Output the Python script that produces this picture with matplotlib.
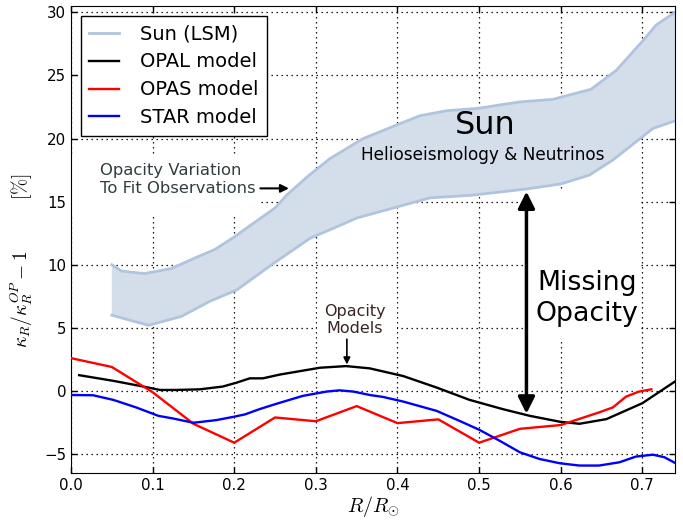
import matplotlib
matplotlib.use("Agg")
import matplotlib.pyplot as plt
from matplotlib.patches import Rectangle
import numpy as np

plt.rcParams['mathtext.fontset'] = 'cm'
plt.rcParams['font.family'] = ['DejaVu Sans']
plt.rcParams['lines.scale_dashes'] = False

# Sun band (LSM)
sun_up_x = [0.05, 0.062, 0.09, 0.123, 0.154, 0.176, 0.2, 0.215, 0.25, 0.264, 0.29, 0.317, 0.358,
            0.427, 0.46, 0.5, 0.529, 0.55, 0.59, 0.637, 0.668, 0.70, 0.717, 0.74]
sun_up_y = [10.0, 9.5, 9.3, 9.7, 10.6, 11.2, 12.2, 12.9, 14.5, 15.5, 17.0, 18.4, 20.0,
            21.8, 22.2, 22.4, 22.7, 22.9, 23.1, 23.9, 25.4, 27.7, 29.0, 30.0]
sun_lo_x = [0.05, 0.095, 0.135, 0.17, 0.203, 0.248, 0.293, 0.329, 0.35, 0.44, 0.49, 0.558,
            0.60, 0.635, 0.664, 0.713, 0.74]
sun_lo_y = [6.0, 5.2, 5.9, 7.1, 8.0, 10.1, 12.1, 13.1, 13.7, 15.3, 15.5, 16.0,
            16.4, 17.1, 18.3, 20.8, 21.4]

# OPAL model
opal_x = [0.01, 0.052, 0.0885, 0.109, 0.129, 0.158, 0.186, 0.203, 0.219, 0.235, 0.256, 0.305,
          0.337, 0.366, 0.407, 0.448, 0.488, 0.529, 0.562, 0.599, 0.623, 0.656, 0.70, 0.74]
opal_y = [1.25, 0.8, 0.35, 0.08, 0.08, 0.13, 0.35, 0.66, 1.0, 1.0, 1.3, 1.84,
          1.97, 1.79, 1.18, 0.27, -0.7, -1.44, -1.97, -2.44, -2.6, -2.23, -0.97, 0.75]

# OPAS model
opas_x = [0.0, 0.05, 0.1, 0.15, 0.2, 0.25, 0.3, 0.35, 0.4, 0.45, 0.5, 0.55, 0.6, 0.647,
          0.664, 0.68, 0.696, 0.711]
opas_y = [2.6, 1.9, -0.1, -2.6, -4.1, -2.1, -2.4, -1.2, -2.55, -2.25, -4.1, -3.0, -2.7, -1.7,
          -1.3, -0.45, -0.05, 0.13]

# STAR model
star_x = [0.0, 0.027, 0.052, 0.08, 0.107, 0.125, 0.15, 0.178, 0.199, 0.213, 0.231, 0.25, 0.284,
          0.313, 0.329, 0.346, 0.366, 0.382, 0.407, 0.448, 0.476, 0.5, 0.525, 0.55, 0.574,
          0.599, 0.623, 0.647, 0.672, 0.692, 0.713, 0.727, 0.74]
star_y = [-0.32, -0.34, -0.71, -1.31, -1.97, -2.18, -2.52, -2.31, -2.05, -1.86, -1.44, -1.05, -0.39,
          -0.05, 0.05, -0.05, -0.32, -0.47, -0.84, -1.58, -2.37, -3.07, -3.94, -4.86, -5.39,
          -5.73, -5.91, -5.91, -5.65, -5.2, -5.05, -5.25, -5.7]

xticks = [0.0, 0.1, 0.2, 0.3, 0.4, 0.5, 0.6, 0.7]
yticks = [-5, 0, 5, 10, 15, 20, 25, 30]

fig = plt.figure(figsize=(6.83, 5.2), dpi=100)
ax = fig.add_axes([71/683, 1-473/520, (675-71)/683, (473-6)/520])

band_edge = '#b0c4de'
band_fill = '#d4deeb'
xs = np.union1d(sun_up_x, sun_lo_x)
ax.fill_between(xs, np.interp(xs, sun_lo_x, sun_lo_y), np.interp(xs, sun_up_x, sun_up_y),
                facecolor=band_fill, edgecolor='none', zorder=1)
ax.plot(sun_up_x, sun_up_y, color=band_edge, lw=2, zorder=2, label='Sun (LSM)')
ax.plot(sun_lo_x, sun_lo_y, color=band_edge, lw=2, zorder=2)

ax.plot(opal_x, opal_y, color='black', lw=1.7, label='OPAL model', zorder=3)
ax.plot(opas_x, opas_y, color='red', lw=1.7, label='OPAS model', zorder=3)
ax.plot(star_x, star_y, color='blue', lw=1.7, label='STAR model', zorder=3)

# white backgrounds behind annotation texts (hide the grid)
for (x0, x1, y0, y1) in [(0.0, 0.232, 13.9, 18.7), (0.559, 0.698, 3.9, 15.9),
                         (0.302, 0.399, 4.1, 7.4)]:
    ax.add_patch(Rectangle((x0, y0), x1 - x0, y1 - y0, facecolor='white',
                           edgecolor='none', zorder=1.5))

ax.set_xlim(0, 0.74)
ax.set_ylim(-6.5, 30.5)
ax.set_xticks(xticks)
ax.set_yticks(yticks)
ax.set_xticklabels(['%.1f' % v for v in xticks])
ax.set_yticklabels([('\u2212%d' % -v) if v < 0 else '%d' % v for v in yticks])
ax.tick_params(direction='in', top=True, right=True, labelsize=10.8, length=4, width=1)
ax.grid(True, linestyle=(0, (1, 2.6)), color='black', lw=0.9)
ax.set_axisbelow(True)

ax.set_xlabel(r'$R/R_{\odot}$', fontsize=14.5, labelpad=1)
ax.set_ylabel(r'$\kappa_R/\kappa_R^{OP}-1\quad\quad\quad[\%]$', fontsize=14)
ax.yaxis.set_label_coords(-0.06, 0.456)

leg = ax.legend(loc='upper left', fontsize=14, fancybox=False, framealpha=1,
                edgecolor='black', handlelength=1.5, handletextpad=1.1,
                labelspacing=0.46, borderaxespad=0.5, borderpad=0.45)
leg.get_frame().set_linewidth(1)

ax.text(0.507, 21.0, 'Sun', fontsize=23, ha='center', va='center', zorder=5)
ax.text(0.504, 18.7, 'Helioseismology & Neutrinos', fontsize=12.2, ha='center', va='center', zorder=5)
ax.text(0.632, 7.35, 'Missing\nOpacity', fontsize=19.3, ha='center', va='center',
        linespacing=1.25, zorder=5)

ax.annotate('', xy=(0.558, 15.8), xytext=(0.558, -1.8),
            arrowprops=dict(arrowstyle='<|-|>', color='black', lw=2.5, mutation_scale=25,
                            shrinkA=0, shrinkB=0), zorder=5)

ax.text(0.036, 16.75, 'Opacity Variation\nTo Fit Observations', fontsize=11.8, ha='left',
        va='center', color='#2f3f3f', linespacing=1.2, zorder=5)
ax.annotate('', xy=(0.267, 16.05), xytext=(0.232, 16.05),
            arrowprops=dict(arrowstyle='-|>', color='black', lw=1.5, mutation_scale=12,
                            shrinkA=0, shrinkB=0), zorder=5)

ax.text(0.348, 5.6, 'Opacity\nModels', fontsize=11.5, ha='center', va='center',
        color='#3a2424', linespacing=1.2, zorder=5)
ax.annotate('', xy=(0.338, 2.1), xytext=(0.338, 4.1),
            arrowprops=dict(arrowstyle='-|>', color='black', lw=1.2, mutation_scale=10,
                            shrinkA=0, shrinkB=0), zorder=5)

fig.savefig('out.png', dpi=100)
